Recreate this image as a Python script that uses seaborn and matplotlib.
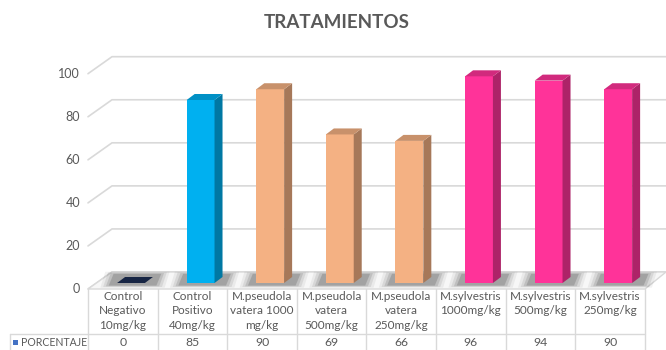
import numpy as np
import matplotlib
matplotlib.use("Agg")
import matplotlib.pyplot as plt
import seaborn as sns
from matplotlib.patches import Polygon
import matplotlib.colors as mcolors

# ---------------- data ----------------
categories = ["Control\nNegativo\n10mg/kg", "Control\nPositivo\n40mg/kg",
              "M.pseudola\nvatera 1000\nmg/kg", "M.pseudola\nvatera\n500mg/kg",
              "M.pseudola\nvatera\n250mg/kg", "M.sylvestris\n1000mg/kg",
              "M.sylvestris\n500mg/kg", "M.sylvestris\n250mg/kg"]
values = [0, 85, 90, 69, 66, 96, 94, 90]
bar_colors = ["#172544", "#00B0F0", "#F4B183", "#F4B183", "#F4B183",
              "#FF3399", "#FF3399", "#FF3399"]
yticks = [0, 20, 40, 60, 80, 100]
series_name = "PORCENTAJE"
title = "TRATAMIENTOS"

# ---------------- style ----------------
sns.set_style("white")
plt.rcParams['font.family'] = ['Lato', 'DejaVu Sans']
TXT = "#595959"
GRID = "#d9d9d9"

W, H = 666, 350
fig = plt.figure(figsize=(W / 100, H / 100), dpi=100)

# geometry in pixels
pcat = 69.6          # px per category
x0_px = 88           # left edge of plot / table columns
bar0_px = 131        # centre of first bar
ppu = 2.153          # px per value unit
base_px = 283        # value 0 at bars' plane
front_px = 289       # front floor edge
top_px = 50

xl = -(bar0_px - x0_px) / pcat
xr = xl + (W - x0_px) / pcat
yb = -(front_px - base_px) / ppu
yt = (base_px - top_px) / ppu

ax = fig.add_axes([x0_px / W, (H - front_px) / H, (W - x0_px) / W, (front_px - top_px) / H])

sns.barplot(x=categories, y=values, hue=categories,
            palette=dict(zip(categories, bar_colors)), saturation=1,
            width=0.4, legend=False, ax=ax, zorder=3, linewidth=0)
ax.set_xlim(xl, xr)
ax.set_ylim(yb, yt)
ax.axis('off')

# 3D wall/floor gridlines
back_dx = 24 / pcat
back_dy = (base_px - 272) / ppu      # back wall offset in value units
front_dy = yb
right_front = xl + (645 - x0_px) / pcat
for v in yticks:
    ax.plot([xl, xl + back_dx, xr], [v + front_dy, v + back_dy, v + back_dy],
            color=GRID, lw=1.2, clip_on=False, zorder=0)
    ax.text(xl - 8 / pcat, v + front_dy, f"{v}", ha='right', va='center',
            fontsize=9, color=TXT, clip_on=False)

# floor
floor = Polygon([(xl, front_dy), (right_front, front_dy), (xr, back_dy), (xl + back_dx, back_dy)],
                closed=True, facecolor="#f7f7f7", edgecolor=GRID, lw=1, zorder=0.5,
                clip_on=False)
ax.add_patch(floor)

# 3D faces for each bar
dx = 8 / pcat
dy = 6 / ppu


def shade(c, f):
    r, g, b = mcolors.to_rgb(c)
    return (r * f, g * f, b * f)


for p in list(ax.patches):
    if p is floor:
        continue
    x = p.get_x()
    w = p.get_width()
    h = p.get_height()
    c = p.get_facecolor()
    # soft shadow on the floor
    for k, a in enumerate([0.05, 0.08, 0.11, 0.15]):
        e = (3 - k) * 0.04
        ax.add_patch(Polygon([(x - 0.12 - e, -1.2 - e * 8), (x + w + dx + 0.05 + e, -1.2 - e * 8),
                              (x + w + dx + 0.12 + e, dy + 1.5 + e * 8), (x - 0.05 - e, dy + 1.5 + e * 8)],
                             closed=True, facecolor="black", alpha=a, lw=0, zorder=1))
    side = Polygon([(x + w, 0), (x + w + dx, dy), (x + w + dx, h + dy), (x + w, h)],
                   closed=True, facecolor=shade(c, 0.68), lw=0, zorder=3)
    topf = Polygon([(x, h), (x + w, h), (x + w + dx, h + dy), (x + dx, h + dy)],
                   closed=True, facecolor=shade(c, 0.82) if h > 0 else c, lw=0, zorder=3)
    ax.add_patch(side)
    ax.add_patch(topf)

# title
fig.text(0.505, 1 - 22 / H, title, ha='center', va='center', fontsize=13.5,
         fontweight='bold', color=TXT)

# ---------------- data table ----------------
tab = fig.add_axes([0, 0, 1, 1], zorder=-1)
tab.set_xlim(0, W)
tab.set_ylim(H, 0)
tab.axis('off')
n = len(categories)
row_y = 334
tab.plot([10, x0_px + n * pcat], [row_y, row_y], color=GRID, lw=1)
for k in range(n + 1):
    xx = x0_px + k * pcat
    tab.plot([xx, xx], [front_px, H], color=GRID, lw=1)
tab.plot([10, 10], [row_y, H], color=GRID, lw=1)
for i, (lab, v) in enumerate(zip(categories, values)):
    cx = x0_px + (i + 0.5) * pcat
    tab.text(cx, 290.5, lab, ha='center', va='top', fontsize=8.5, color=TXT,
             linespacing=1.42)
    tab.text(cx, 342.5, f"{v}", ha='center', va='center', fontsize=8.8, color=TXT)
tab.add_patch(plt.Rectangle((13, 339.5), 5, 5, facecolor="#4472C4", lw=0))
tab.text(21, 342.5, series_name, ha='left', va='center', fontsize=7.6, color=TXT)

fig.savefig("out.png", dpi=100)
